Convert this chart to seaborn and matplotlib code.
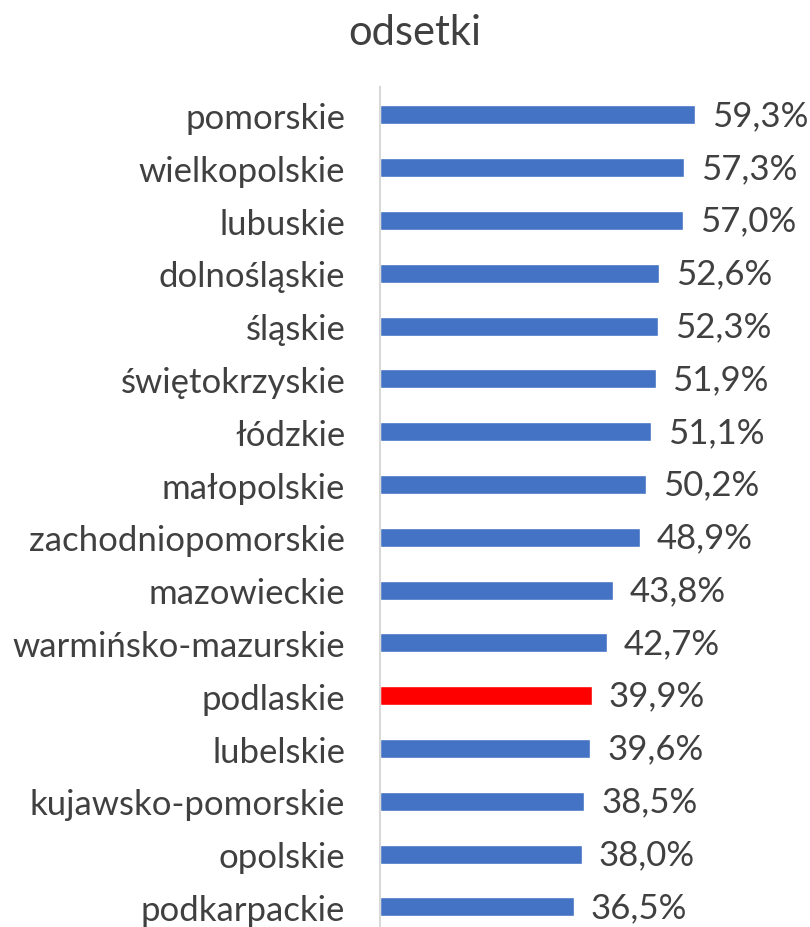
import matplotlib
matplotlib.use("Agg")
import matplotlib.pyplot as plt
import seaborn as sns
import pandas as pd

regions = ["pomorskie", "wielkopolskie", "lubuskie", "dolnośląskie", "śląskie",
           "świętokrzyskie", "łódzkie", "małopolskie", "zachodniopomorskie",
           "mazowieckie", "warmińsko-mazurskie", "podlaskie", "lubelskie",
           "kujawsko-pomorskie", "opolskie", "podkarpackie"]
values = [59.3, 57.3, 57.0, 52.6, 52.3, 51.9, 51.1, 50.2, 48.9,
          43.8, 42.7, 39.9, 39.6, 38.5, 38.0, 36.5]
highlight = "podlaskie"

sns.set_style("white")
plt.rcParams['font.family'] = ['Lato', 'DejaVu Sans']

df = pd.DataFrame({"region": regions, "value": values})
palette = {r: ("#FF0000" if r == highlight else "#4472C4") for r in regions}

fig = plt.figure(figsize=(8.1, 9.28), dpi=100)
ax = fig.add_axes([380 / 810, 0, 430 / 810, 1 - 88 / 928])

sns.barplot(data=df, x="value", y="region", hue="region", palette=palette,
            width=0.36, legend=False, ax=ax, saturation=1)

for i, v in enumerate(values):
    ax.text(v + 3.2, i, f"{v:.1f}%".replace(".", ","), va="center", ha="left",
            fontsize=25, color="#404040")

ax.set_xlim(0, 81)
ax.set_ylim(15.38, -0.53)
ax.set_xlabel("")
ax.set_ylabel("")
ax.set_xticks([])
ax.tick_params(axis="y", length=0, pad=25, labelsize=25, labelcolor="#404040")
for s in ["top", "right", "bottom"]:
    ax.spines[s].set_visible(False)
ax.spines["left"].set_color("#D9D9D9")
ax.spines["left"].set_linewidth(1.5)

fig.text(0.512, 1 - 33 / 928, "odsetki", ha="center", va="center",
         fontsize=30, color="#404040")

fig.savefig("out.png", dpi=100)
